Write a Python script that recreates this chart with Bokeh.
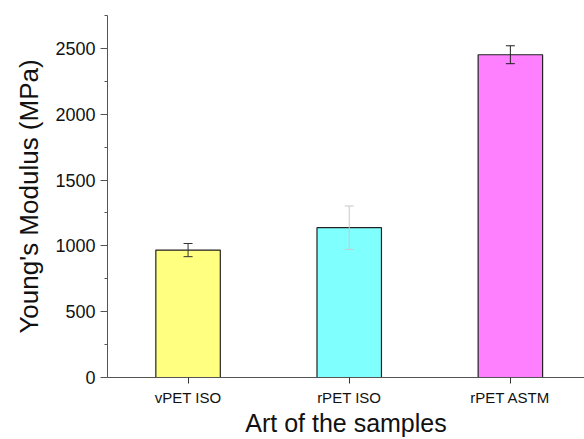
from bokeh.plotting import figure
from bokeh.models import ColumnDataSource, Range1d, FixedTicker
from bokeh.embed import file_html
from bokeh.resources import INLINE

categories = ["vPET ISO", "rPET ISO", "rPET ASTM"]
positions = [1, 2, 3]
modulus = [968, 1138, 2452]
errors = [50, 165, 68]
bar_colors = ["#ffff80", "#80ffff", "#ff80ff"]
err_colors = ["#333333", "#c8c8c8", "#222222"]
y_ticks = [0, 500, 1000, 1500, 2000, 2500]
y_minor = [250, 750, 1250, 1750, 2250, 2750]

upper = [m + e for m, e in zip(modulus, errors)]
lower = [m - e for m, e in zip(modulus, errors)]
src = ColumnDataSource(dict(x=positions, top=modulus, upper=upper, lower=lower,
                            color=bar_colors, ecolor=err_colors))

p = figure(width=584, height=439, output_backend="svg", toolbar_location=None,
           x_range=Range1d(0.5, 3.46), y_range=Range1d(0, 2750),
           min_border_left=107, min_border_right=0, min_border_top=15, min_border_bottom=60)
p.outline_line_color = None
p.xgrid.visible = False
p.ygrid.visible = False

p.vbar(x="x", top="top", width=0.4, bottom=0, source=src, fill_color="color",
       line_color="#222222", line_width=1.2)
p.segment(x0="x", y0="lower", x1="x", y1="upper", line_color="ecolor", line_width=1, source=src)
p.scatter(x="x", y="upper", marker="dash", size=9, line_color="ecolor", line_width=1, source=src)
p.scatter(x="x", y="lower", marker="dash", size=9, line_color="ecolor", line_width=1, source=src)

font = "Liberation Sans"
ax = p.yaxis[0]
ax.ticker = FixedTicker(ticks=y_ticks, minor_ticks=y_minor)
ax.axis_label = "Young's Modulus (MPa)"
ax.axis_label_text_font = font
ax.axis_label_text_font_size = "26px"
ax.axis_label_text_font_style = "normal"
ax.axis_label_text_color = "#111111"
ax.axis_label_standoff = 8
ax.major_label_text_font = font
ax.major_label_text_font_size = "18px"
ax.major_label_text_color = "#111111"
ax.major_tick_out = 7
ax.major_tick_in = 0
ax.minor_tick_out = 3
ax.minor_tick_in = 0
ax.axis_line_color = "#555555"
ax.major_tick_line_color = "#555555"
ax.minor_tick_line_color = "#555555"

bx = p.xaxis[0]
bx.ticker = FixedTicker(ticks=positions, minor_ticks=[])
bx.major_label_overrides = {pos: c for pos, c in zip(positions, categories)}
bx.axis_label = "Art of the samples"
bx.axis_label_text_font = font
bx.axis_label_text_font_size = "25px"
bx.axis_label_text_font_style = "normal"
bx.axis_label_text_color = "#111111"
bx.axis_label_standoff = 0
bx.major_label_text_font = font
bx.major_label_text_font_size = "15px"
bx.major_label_text_color = "#111111"
bx.major_tick_out = 6
bx.major_tick_in = 0
bx.axis_line_color = "#555555"
bx.major_tick_line_color = "#333333"

open("out.html", "w").write(file_html(p, INLINE))
